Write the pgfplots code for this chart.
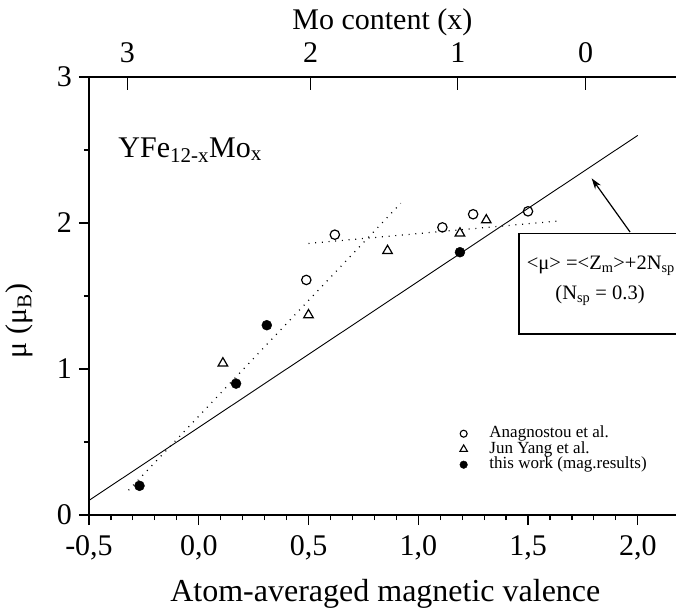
\documentclass[border=0pt]{standalone}
\usepackage{fontspec}
\setmainfont{Liberation Serif}
\usepackage{pgfplots}
\pgfplotsset{compat=1.18}
\usetikzlibrary{arrows.meta}
\begin{document}
\begin{tikzpicture}
\begin{axis}[
  scale only axis, width=592.65pt, height=438pt,
  xmin=-0.5, xmax=2.2, ymin=0, ymax=3,
  axis line style={line width=1.4pt},
  xtick={-0.5,0,0.5,1,1.5,2},
  xticklabels={{-0,5},{0,0},{0,5},{1,0},{1,5},{2,0}},
  minor x tick num=4,
  ytick={0,1,2,3}, yticklabels={0,1,2,3},
  minor ytick={0.5,1.5,2.5},
  xtick pos=bottom, ytick pos=left,
  tick align=outside,
  major tick length=10pt, minor tick length=5pt,
  every tick/.style={line width=1.2pt, black},
  ticklabel style={font=\fontsize{30}{36}\selectfont, inner sep=0pt},
  xticklabel style={anchor=base, yshift=-30pt},
  yticklabel style={anchor=east, xshift=-7pt},
  clip=false,
  legend style={draw=none, fill=none, at={(axis cs:1.175,0.625)}, anchor=north west,
    font=\fontsize{17}{18}\selectfont, row sep=0pt,
    nodes={inner sep=0pt, text height=11.8pt, text depth=3.7pt},
    /tikz/every odd column/.append style={column sep=22pt}},
  legend cell align=left,
]
\addlegendimage{only marks, mark=o, mark size=3.5pt, mark options={line width=1.1pt}}
\addlegendentry{Anagnostou et al.}
\addlegendimage{only marks, mark=triangle, mark size=4.3pt, mark options={line width=1.1pt}}
\addlegendentry{Jun Yang et al.}
\addlegendimage{only marks, mark=*, mark size=3.8pt}
\addlegendentry{this work (mag.results)}

\addplot[black, line width=0.9pt, forget plot] coordinates {(-0.5,0.1) (2.0,2.6)};
\addplot[black, line width=1.2pt, dash pattern=on 1pt off 5.7pt, forget plot] coordinates {(-0.32,0.17) (0.92,2.135)};
\addplot[black, line width=1.2pt, dash pattern=on 1pt off 5.7pt, forget plot] coordinates {(0.50,1.86) (1.64,2.014)};

\addplot[only marks, mark=o, mark size=4.7pt, mark options={line width=1.2pt, fill=white}, forget plot]
  coordinates {(0.49,1.61) (0.62,1.92) (1.11,1.97) (1.25,2.06) (1.50,2.08)};
\addplot[only marks, mark=triangle, mark size=5.5pt, mark options={line width=1.2pt, fill=white}, forget plot]
  coordinates {(0.11,1.04) (0.50,1.37) (0.86,1.81) (1.19,1.93) (1.31,2.02)};
\addplot[only marks, mark=*, mark size=5pt, black, forget plot]
  coordinates {(-0.27,0.20) (0.17,0.90) (0.31,1.30) (1.19,1.80)};

\node[anchor=base west, font=\fontsize{30}{36}\selectfont] at (axis cs:-0.382,2.452) {YFe\textsubscript{12-x}Mo\textsubscript{x}};

\draw[line width=1.3pt] (axis cs:1.459,1.24) rectangle (axis cs:2.25,1.93);
\node[font=\fontsize{20.5}{24}\selectfont] at (axis cs:1.832,1.705) {<μ> =<Z\textsubscript{m}>+2N\textsubscript{sp}};
\node[font=\fontsize{20.5}{24}\selectfont] at (axis cs:1.828,1.505) {(N\textsubscript{sp} = 0.3)};
\draw[line width=1.2pt, -{Stealth[length=11pt, width=7pt]}] (axis cs:1.965,1.938) -- (axis cs:1.79,2.306);

\node[rotate=90, font=\fontsize{30}{36}\selectfont] at ([xshift=-70pt]rel axis cs:0,0.443) {μ (μ\textsubscript{B})};
\node[anchor=base, font=\fontsize{32}{38}\selectfont] at ([yshift=-86.7pt]rel axis cs:0.5,0) {Atom-averaged magnetic valence};
\node[anchor=base, font=\fontsize{30}{36}\selectfont] at ([yshift=48pt]rel axis cs:0.495,1) {Mo content (x)};
\end{axis}
\begin{axis}[
  scale only axis, width=592.65pt, height=438pt,
  xmin=-0.5, xmax=2.2, ymin=0, ymax=3,
  axis x line*=top, axis y line=none,
  axis line style={line width=1.4pt},
  xtick={-0.325,0.51,1.18,1.763}, xticklabels={3,2,1,0},
  tick align=inside, major tick length=13pt,
  every tick/.style={line width=1.2pt, black},
  ytick=\empty,
  xticklabel style={font=\fontsize{30}{36}\selectfont, inner sep=0pt, anchor=base, yshift=14pt},
]
\end{axis}
\pgfresetboundingbox
\path[use as bounding box] (-89pt,-99pt) rectangle (587pt,515pt);
\end{tikzpicture}
\end{document}
